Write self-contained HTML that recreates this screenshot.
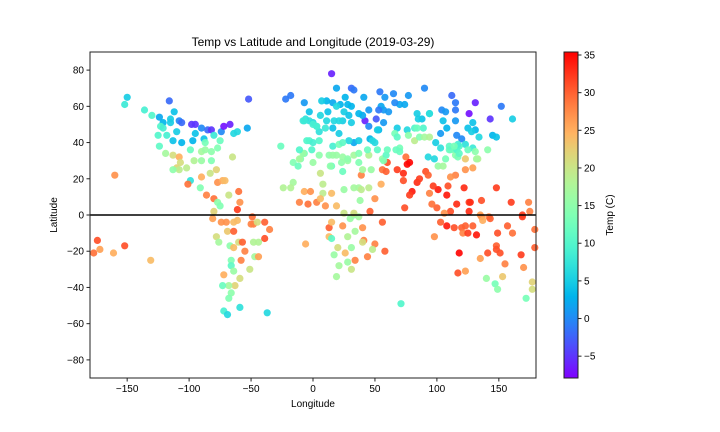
<!DOCTYPE html>
<html><head><meta charset="utf-8"><style>
html,body{margin:0;padding:0;background:#fff;}
svg{display:block;font-family:"Liberation Sans","DejaVu Sans",sans-serif;}
</style></head><body>
<svg id="chart" width="720" height="432" viewBox="0 0 720 432" xmlns="http://www.w3.org/2000/svg">
<defs><linearGradient id="cbgrad" x1="0" y1="1" x2="0" y2="0"></linearGradient></defs>
<rect width="720" height="432" fill="#fff"/>
<text x="313" y="46" text-anchor="middle" font-size="12">Temp vs Latitude and Longitude (2019-03-29)</text>
<g id="points"></g>
<g id="axes"></g>
<text x="313" y="407" text-anchor="middle" font-size="10">Longitude</text>
<text transform="translate(57,215) rotate(-90)" text-anchor="middle" font-size="10">Latitude</text>
<g id="cbar"></g>
<text transform="translate(613,215) rotate(-90)" text-anchor="middle" font-size="10">Temp (C)</text>
</svg>
<script>
const lon = [-150,-152,-136,-130,-116,-124,-112,-115,-121,-115,-108,-106,-98,-95,-90,-85,-82,-74,-72,-67,-64,-61,-53,-52,-123,-121,-110,-125,-118,-113,-106,-95,-97,-88,-80,-75,-87,-124,-119,-113,-108,-99,-90,-87,-82,-77,-65,-107,-110,-108,-113,-102,-96,-90,-82,-83,-78,-90,-99,-101,-91,-77,-73,-71,-86,-80,-68,-60,-59,-77,-75,-61,-80,-160,-26,-22,-18,-7,-3,-8,-6,0,3,-3,0,5,-7,-10,-16,-12,-16,-24,-18,-7,-2,-11,-4,3,5,
-174,-177,-172,-161,-152,-131,-81,-74,-70,-64,-61,-49,-50,-48,-45,-39,-35,-69,-64,-78,-76,-67,-64,-60,-57,-48,-44,-39,-55,-47,-44,-51,-58,-66,-66,-64,-59,-72,-63,-68,-73,-66,-68,-72,-69,-59,-37,-6,
15,19,31,33,26,41,54,58,65,77,
90,112,115,131,152,161,126,143,115,104,
107,115,105,94,88,84,85,74,70,66,
61,57,55,53,51,42,45,53,57,45,
40,37,31,28,22,16,11,7,12,19,
25,29,24,31,21,17,11,3,10,16,
21,33,29,37,46,48,50,52,68,76,
82,89,94,99,103,93,98,103,108,116,
120,125,129,131,134,128,145,148,123,129,
118,114,111,115,123,133,141,117,107,101,
105,123,129,115,111,122,148,109,108,101,
97,94,116,126,127,136,160,174,175,169,
142,135,126,111,106,100,96,74,75,78,
76,68,73,73,84,86,91,93,80,78,
60,56,59,55,46,39,40,47,45,37,
33,25,39,38,50,8,8,15,6,
10,19,25,33,24,23,15,6,0,19,
24,28,33,37,37,45,44,52,56,59,
57,60,66,68,70,67,70,77,82,86,
90,94,84,110,116,118,125,131,132,117,
110,114,-11,-8,-5,-1,16,21,24,14,
5,13,16,28,-11,-3,-7,0,6,
13,15,13,15,24,30,33,37,40,28,34,20,17,26,31,41,40,50,48,44,34,28,21,31,19,56,58,71,98,103,108,114,120,123,129,121,125,132,136,137,143,149,157,161,169,179,179,118,141,135,148,148,151,155,168,170,117,123,140,147,149,153,177,177,172];
const lat = [65,61,58,55,63,54,57,53,51,51,52,51,50,50,48,47,47,46,49,50,45,46,48,64,49,48,46,44,44,41,40,45,41,42,44,41,40,38,34,33,32,36,35,36,35,37,32,29,26,25,25,26,30,30,30,23,25,21,19,17,15,18,19,19,11,9,11,13,7,7,5,3,2,22,38,64,66,62,57,52,53,51,49,41,40,41,34,31,29,27,18,15,15,13,13,7,6,7,46,
-14,-21,-19,-21,-17,-25,-2,-4,-4,-4,-3,-1,-5,-5,-4,-4,-8,-9,-9,-12,-15,-17,-18,-15,-15,-15,-15,-13,-20,-23,-23,-30,-25,-25,-28,-31,-35,-33,-39,-39,-39,-43,-46,-53,-55,-51,-54,-16,
78,70,70,69,65,65,68,65,67,66,
70,66,62,62,60,53,56,53,58,58,
57,52,52,56,53,56,53,61,61,62,
57,58,60,58,53,52,49,47,51,58,
55,56,60,61,61,62,63,63,57,60,
57,55,52,51,52,52,52,49,48,48,
45,40,41,41,42,41,40,47,48,47,
48,48,56,40,37,32,31,45,48,44,
42,48,51,47,43,46,44,43,39,37,
38,36,36,33,31,31,36,32,31,27,
27,25,26,22,21,15,15,16,11,14,
16,12,6,7,7,8,7,7,2,0,
-1,0,2,2,1,4,6,4,32,29,
28,25,23,19,18,20,24,22,13,11,
29,25,24,17,2,22,25,25,15,15,
15,14,14,8,9,17,12,12,9,
5,5,1,0,24,29,27,23,29,33,
32,30,33,29,34,33,36,36,31,33,
30,36,45,43,37,36,35,44,41,43,
43,43,48,36,36,34,36,35,31,39,
38,38,31,34,41,36,38,39,40,27,
33,33,33,31,36,52,52,50,55,
-7,-4,-12,-13,-6,-2,1,-1,-7,-12,-9,-18,-22,-21,-18,-14,-15,-16,-19,-23,-25,-26,-28,-30,-34,-4,-20,-49,-12,-4,-6,-7,-7,-6,-6,-10,-10,-11,-1,-3,-2,-10,-6,-10,-1,-8,-18,-21,-21,-24,-17,-19,-21,-27,-22,-29,-32,-31,-35,-38,-41,-34,-37,-41,-46];
const temp = [5,8,9,10,-2,2,4,5,3,5,0,-2,-5,-5,0,-2,-5,0,-7,-6,6,6,2,-3,10,9,5,10,9,4,3,4,3,4,8,12,13,11,17,21,25,12,17,16,15,14,20,21,22,19,15,19,18,16,14,20,22,25,7,29,14,27,25,24,28,29,20,29,27,15,14,32,22,27,12,-1,-1,1,4,8,7,6,8,10,9,10,13,14,14,12,17,18,18,25,27,28,29,28,7,
31,29,26,25,31,24,26,27,27,24,24,29,28,28,21,30,28,23,30,21,17,15,24,21,30,18,18,31,28,17,26,20,28,14,11,16,21,25,22,17,12,15,14,9,6,7,6,25,
-6,2,-2,-1,3,2,-1,1,0,1,
0,-2,-1,-6,-1,5,-7,-5,-1,0,
1,1,4,4,4,5,5,2,2,0,
1,1,2,-1,-3,-6,0,3,1,1,
2,3,3,3,3,2,3,5,4,6,
5,4,5,5,6,6,6,9,8,4,
5,2,6,5,3,6,6,5,5,6,
10,10,7,5,7,6,6,1,3,0,
0,4,4,3,6,5,3,4,7,8,
10,12,13,15,23,18,15,13,13,16,
17,27,26,28,27,33,32,31,34,34,
32,28,33,32,33,31,32,28,28,32,
28,26,33,31,27,30,29,31,29,35,
35,32,33,31,33,32,31,30,34,32,
31,29,30,25,30,28,17,16,19,17,
17,16,19,16,27,19,19,24,24,
27,24,20,15,12,15,12,20,16,16,
16,16,17,14,14,18,12,11,16,11,
14,12,13,11,13,12,12,15,19,14,
17,18,12,12,10,11,12,15,17,9,
11,13,17,16,10,10,9,13,11,15,
15,15,16,15,10,7,8,9,6,
30,24,24,11,27,16,21,17,27,18,17,21,16,24,16,28,21,28,19,28,28,16,17,20,17,30,30,10,27,30,34,31,30,30,30,28,32,34,27,25,30,31,30,29,32,29,30,35,31,26,30,31,31,28,32,27,31,26,16,13,15,23,22,21,13];
const xTicks = [-150,-100,-50,0,50,100,150];
const yTicks = [-80,-60,-40,-20,0,20,40,60,80];
const cbTicks = [-5,0,5,10,15,20,25,30,35];
const tMin = -7.9, tMax = 35.4;

const NS="http://www.w3.org/2000/svg";
const L=90,R=536,T=52,B=378;
const xS=v=>L+(v+180)/360*(R-L);
const yS=v=>B-(v+90)/180*(B-T);
function rainbow(x){x=Math.max(0,Math.min(1,x));
 const r=Math.min(1,Math.abs(2*x-0.5)),g=Math.sin(x*Math.PI),b=Math.cos(x*Math.PI/2);
 return `rgb(${Math.round(r*255)},${Math.round(g*255)},${Math.round(Math.max(0,b)*255)})`;}
function mk(tag,attrs,parent){const e=document.createElementNS(NS,tag);for(const k in attrs)e.setAttribute(k,attrs[k]);parent.appendChild(e);return e;}

const pts=document.getElementById('points');
const n=Math.min(lon.length,lat.length,temp.length);
for(let i=0;i<n;i++){
 const lo=Math.max(-180,Math.min(180,lon[i]));
 const c=mk('circle',{cx:xS(lo).toFixed(1),cy:yS(lat[i]).toFixed(1),r:3.6,fill:rainbow((temp[i]-tMin)/(tMax-tMin)),'fill-opacity':0.92},pts);
 
 
}
const ax=document.getElementById('axes');
const zl=mk('line',{x1:L,x2:R,y1:yS(0),y2:yS(0),stroke:'#000','stroke-width':1.5},ax);


const fr=mk('rect',{x:L,y:T,width:R-L,height:B-T,fill:'none',stroke:'#222','stroke-width':1},ax);


xTicks.forEach(v=>{const x=xS(v);
 mk('line',{x1:x,x2:x,y1:B,y2:B+3.5,stroke:'#222'},ax);
 const t=mk('text',{x:x,y:B+14,'text-anchor':'middle','font-size':10},ax);t.textContent=v<0?'\u2212'+(-v):v;
 
 });
yTicks.forEach(v=>{const y=yS(v);
 mk('line',{x1:L-3.5,x2:L,y1:y,y2:y,stroke:'#222'},ax);
 const t=mk('text',{x:L-6,y:y+3.5,'text-anchor':'end','font-size':10},ax);t.textContent=v<0?'\u2212'+(-v):v;
 
 });
const g=document.getElementById('cbgrad');
for(let i=0;i<=20;i++){mk('stop',{offset:(i/20),'stop-color':rainbow(i/20)},g);}
const cb=document.getElementById('cbar');
const CL=564,CR=578;
mk('rect',{x:CL,y:T,width:CR-CL,height:B-T,fill:'url(#cbgrad)',stroke:'#222','stroke-width':1},cb);
const cy=v=>B-(v-tMin)/(tMax-tMin)*(B-T);
cbTicks.forEach(v=>{const y=cy(v);
 mk('line',{x1:CR,x2:CR+3.5,y1:y,y2:y,stroke:'#222'},cb);
 const t=mk('text',{x:CR+6,y:y+3.5,'font-size':10},cb);t.textContent=v<0?'\u2212'+(-v):v;
 
 });
</script>
</body></html>
